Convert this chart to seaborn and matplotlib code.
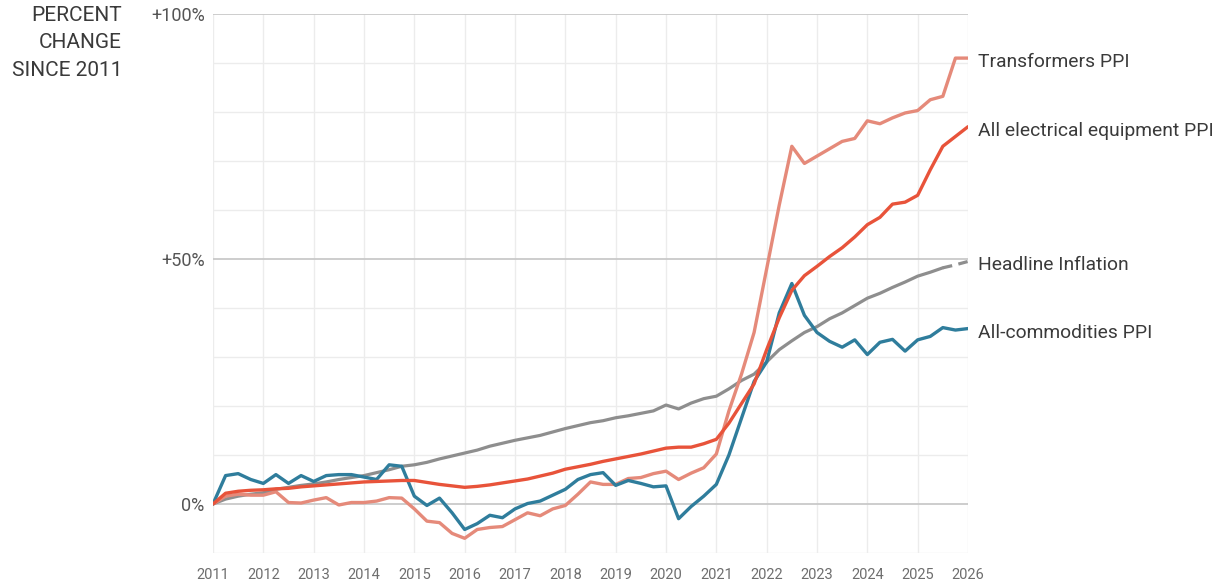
import pandas as pd
import matplotlib.pyplot as plt
import seaborn as sns

# Quarterly readings, percent change since Jan 2011
quarters = [2011 + 0.25 * i for i in range(61)]

commodities = [
    0.0, 5.8, 6.2, 5.0, 4.2, 6.0, 4.2, 5.8, 4.6, 5.8, 6.0, 6.0,
    5.5, 5.0, 8.0, 7.7, 1.6, -0.3, 1.2, -1.8, -5.2, -4.0, -2.3, -2.8,
    -1.0, 0.1, 0.6, 1.8, 3.0, 5.0, 6.0, 6.4, 3.8, 4.8, 4.2, 3.5,
    3.7, -3.0, -0.5, 1.6, 4.0, 10.0, 17.5, 25.0, 29.0, 39.0, 45.0, 38.5,
    35.0, 33.2, 32.0, 33.5, 30.5, 33.0, 33.6, 31.2, 33.5, 34.2, 36.0, 35.5,
    35.8,
]
headline = [
    0.0, 1.0, 1.6, 2.0, 2.3, 3.0, 3.4, 3.8, 4.1, 4.5, 5.0, 5.4,
    5.8, 6.4, 7.0, 7.7, 8.0, 8.5, 9.2, 9.8, 10.4, 11.0, 11.8, 12.4,
    13.0, 13.5, 14.0, 14.7, 15.4, 16.0, 16.6, 17.0, 17.6, 18.0, 18.5, 19.0,
    20.2, 19.4, 20.6, 21.5, 22.0, 23.5, 25.2, 26.5, 29.0, 31.5, 33.3, 35.0,
    36.2, 37.8, 39.0, 40.5, 42.0, 43.0, 44.2, 45.3, 46.5, 47.3, 48.2, 48.8,
    49.5,
]
electrical = [
    0.0, 2.2, 2.6, 2.8, 2.9, 3.1, 3.2, 3.5, 3.7, 3.9, 4.1, 4.3,
    4.5, 4.6, 4.7, 4.8, 4.8, 4.4, 4.0, 3.7, 3.4, 3.6, 3.9, 4.3,
    4.7, 5.1, 5.7, 6.3, 7.1, 7.6, 8.1, 8.7, 9.2, 9.7, 10.2, 10.8,
    11.4, 11.6, 11.6, 12.3, 13.2, 16.5, 20.5, 24.5, 31.5, 38.0, 43.6, 46.6,
    48.5, 50.5, 52.3, 54.5, 57.0, 58.5, 61.2, 61.6, 63.0, 68.2, 73.0, 75.0,
    77.0,
]
transformers = [
    0.0, 1.6, 2.0, 1.8, 1.8, 2.5, 0.3, 0.2, 0.8, 1.3, -0.2, 0.3,
    0.3, 0.6, 1.3, 1.2, -1.0, -3.5, -3.8, -6.0, -7.0, -5.2, -4.8, -4.6,
    -3.2, -1.8, -2.4, -1.0, -0.3, 2.0, 4.5, 4.0, 4.0, 5.2, 5.4, 6.2,
    6.7, 5.0, 6.3, 7.4, 10.2, 19.0, 26.5, 35.0, 48.0, 61.0, 73.0, 69.5,
    71.0, 72.5, 74.0, 74.6, 78.2, 77.6, 78.8, 79.8, 80.3, 82.5, 83.2, 91.0,
    91.0,
]

df = pd.DataFrame({
    'date': quarters,
    'Transformers PPI': transformers,
    'All electrical equipment PPI': electrical,
    'Headline Inflation': headline,
    'All-commodities PPI': commodities,
})

colors = {
    'Transformers PPI': '#e58a7a',
    'All electrical equipment PPI': '#e8533a',
    'Headline Inflation': '#8e8e8e',
    'All-commodities PPI': '#2f7d9c',
}

sns.set_style('white')
plt.rcParams['font.family'] = ['Roboto', 'DejaVu Sans']

fig = plt.figure(figsize=(12.17, 5.82), dpi=100)
ax = fig.add_axes([213 / 1217, 1 - 553 / 582, (968 - 213) / 1217, (553 - 14) / 582])

# grid
for v in range(-10, 101, 10):
    major = v in (0, 50, 100)
    ax.axhline(v, color='#c9c9c9' if major else '#ececec', lw=1.3 if major else 1.0, zorder=1)
for yr in range(2011, 2027):
    ax.axvline(yr, color='#ececec', lw=1.0, zorder=0)

# headline: solid, last stretch dashed
solid = df[df['date'] <= 2025.5]
dashed = df[df['date'] >= 2025.5]
sns.lineplot(x=solid['date'], y=solid['Headline Inflation'], color=colors['Headline Inflation'], lw=2.3, ax=ax, zorder=3)
sns.lineplot(x=dashed['date'], y=dashed['Headline Inflation'], color=colors['Headline Inflation'], lw=2.3,
             ax=ax, zorder=3, linestyle=(0, (3, 2)))
for name in ['Transformers PPI', 'All-commodities PPI', 'All electrical equipment PPI']:
    sns.lineplot(x=df['date'], y=df[name], color=colors[name], lw=2.4, ax=ax, zorder=4)

# end labels
for name in colors:
    ax.text(2026.2, df[name].iloc[-1] - 0.8, name, fontsize=13.9, color='#3a3a3a', va='center', ha='left',
            clip_on=False)

ax.set_xlim(2011, 2026)
ax.set_ylim(-10, 100)
ax.set_xticks(range(2011, 2027))
ax.set_xticklabels([str(y) for y in range(2011, 2027)], fontsize=10.5, color='#6e6e6e')
ax.set_yticks([0, 50, 100])
ax.set_yticklabels(['0%', '+50%', '+100%'], fontsize=13, color='#555555')
ax.tick_params(axis='x', length=0, pad=11)
ax.tick_params(axis='y', length=0, pad=6)
ax.set_xlabel('')
ax.set_ylabel('')
sns.despine(ax=ax, left=True, bottom=True)

fig.text(122 / 1217, 1 - 6 / 582, 'PERCENT\nCHANGE\nSINCE 2011', ha='right', va='top', fontsize=15,
         color='#3a3a3a', linespacing=1.55)

fig.savefig('out.png', dpi=100)
